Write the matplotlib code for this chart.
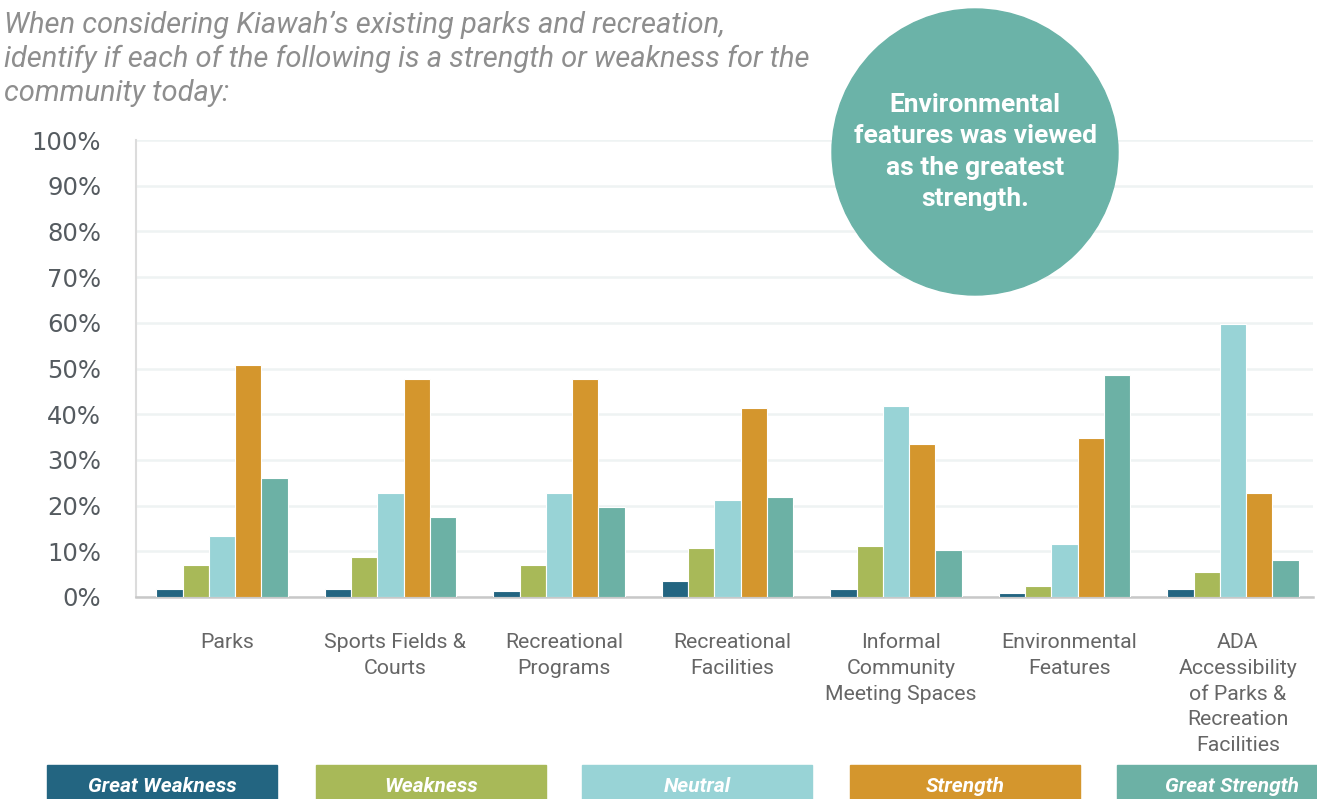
import matplotlib
matplotlib.use("Agg")
import matplotlib.pyplot as plt
import matplotlib.patches as mpatches
import numpy as np

# ── DATA ──────────────────────────────────────────────────────────────────────
categories = ["Parks", "Sports Fields &\nCourts", "Recreational\nPrograms",
              "Recreational\nFacilities", "Informal\nCommunity\nMeeting Spaces",
              "Environmental\nFeatures",
              "ADA\nAccessibility\nof Parks &\nRecreation\nFacilities"]
series_names = ["Great Weakness", "Weakness", "Neutral", "Strength", "Great Strength"]
great_weakness = [1.8, 1.8, 1.4, 3.4, 1.8, 0.8, 1.8]
weakness       = [7.1, 8.7, 7.1, 10.7, 11.2, 2.4, 5.5]
neutral        = [13.4, 22.8, 22.8, 21.2, 41.8, 11.7, 59.7]
strength       = [50.8, 47.6, 47.6, 41.3, 33.4, 34.9, 22.8]
great_strength = [26.0, 17.6, 19.7, 21.8, 10.2, 48.6, 8.1]
yticks = [0, 10, 20, 30, 40, 50, 60, 70, 80, 90, 100]

title = ("When considering Kiawah\u2019s existing parks and recreation,\n"
         "identify if each of the following is a strength or weakness for the\n"
         "community today:")
callout = "Environmental\nfeatures was viewed\nas the greatest\nstrength."

# ── STYLE ─────────────────────────────────────────────────────────────────────
DARK   = "#236581"
OLIVE  = "#a8b958"
AQUA   = "#98d3d6"
ORANGE = "#d4962d"
TEAL   = "#6cb1a5"
colors = [DARK, OLIVE, AQUA, ORANGE, TEAL]

W, H = 1317, 799
fig = plt.figure(figsize=(W / 100, H / 100), dpi=100)
ax = fig.add_axes([136 / W, 1 - 597 / H, (1313 - 136) / W, (597 - 140) / H])

values = [great_weakness, weakness, neutral, strength, great_strength]
x = np.arange(len(categories))
bw = 0.156
for i, (vals, c) in enumerate(zip(values, colors)):
    ax.bar(x + (i - 2) * bw - 0.03, vals, width=bw, color=c,
           edgecolor="white", linewidth=0.8, zorder=3)

ax.set_ylim(0, 100)
ax.set_xlim(-0.54, 6.445)
ax.set_yticks(yticks)
ax.set_yticklabels([f"{v}%" for v in yticks], fontsize=17.5,
                   color="#555b60", family="DejaVu Sans")
ax.tick_params(axis="y", length=0, pad=25)
ax.set_xticks(x)
ax.set_xticklabels(categories, fontsize=15.3, color="#666666",
                   family="Roboto", linespacing=1.45, va="top")
ax.tick_params(axis="x", length=0, pad=26)
ax.grid(axis="y", color="#eef3f3", linewidth=1.8, zorder=0)
for s in ["top", "right"]:
    ax.spines[s].set_visible(False)
ax.spines["left"].set_color("#dcdcdc")
ax.spines["left"].set_linewidth(1.5)
ax.spines["bottom"].set_color("#c8c8c8")
ax.spines["bottom"].set_linewidth(1.8)

# title
fig.text(4 / W, 1 - 59 / H, title, fontsize=21, style="italic",
         color="#8e8e8e", family="Roboto", va="center", ha="left",
         linespacing=1.27)

# callout circle
circ = mpatches.Ellipse((975 / W, 1 - 152 / H), 286 / W, 286 / H,
                        transform=fig.transFigure, color="#6bb3a8",
                        zorder=10)
fig.patches.append(circ)
fig.text(975 / W, 1 - 152 / H, callout, fontsize=19, fontweight="bold",
         color="white", family="Roboto", ha="center", va="center",
         linespacing=1.4, zorder=11)

# legend boxes
box_x = [47, 316, 582, 850, 1117]
for bx, name, c in zip(box_x, series_names, colors):
    rect = mpatches.Rectangle((bx / W, 0), 230 / W, 34 / H,
                              transform=fig.transFigure, color=c, zorder=5)
    fig.patches.append(rect)
    fig.text((bx + 115) / W, 1 - 786 / H, name, fontsize=15,
             fontweight="bold", style="italic", color="white",
             family="Roboto", ha="center", va="center", zorder=6)

fig.savefig("out.png", dpi=100)
